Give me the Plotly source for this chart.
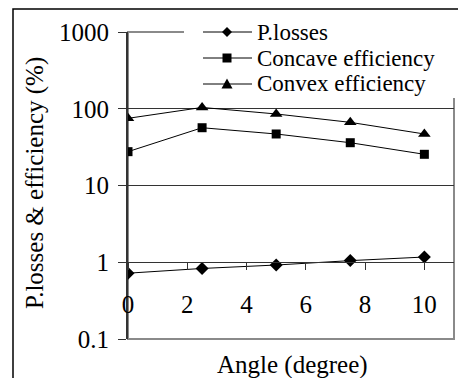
import plotly.graph_objects as go

# ---- data ----
angles = [0, 2.5, 5, 7.5, 10]
p_losses = [0.72, 0.83, 0.92, 1.05, 1.17]
concave_eff = [27.6, 56.6, 46.9, 36.1, 25.5]
convex_eff = [75, 104, 85.5, 66.5, 46.9]
series_names = ["P.losses", "Concave efficiency", "Convex efficiency"]
y_tick_vals = [0.1, 1, 10, 100, 1000]
y_tick_text = ["0.1", "1", "10", "100", "1000"]
x_tick_vals = [0, 2, 4, 6, 8, 10]
x_title = "Angle (degree)"
y_title = "P.losses & efficiency (%)"

FONT = "Liberation Serif"
FS = 25
LFS = 23
# the page body has an 8px margin; the figure is sized so the page has no scrollbars
OFF = 8
FW, FH = 450, 370
# plot area in page pixels: x 128..454, y 32..339
PL, PR, PT, PB = 128, 454, 32, 339
PW, PH = PR - PL, PB - PT
ML, MT = PL - OFF, PT - OFF
MR, MB = FW - ML - PW, FH - MT - PH


def px(x):
    return (x - PL) / PW


def py(y):
    return (PB - y) / PH


fig = go.Figure()
symbols = ["diamond", "square", "triangle-up"]
sizes = [10, 9, 11]
for name, vals, sym, sz in zip(series_names, [p_losses, concave_eff, convex_eff], symbols, sizes):
    fig.add_trace(go.Scatter(
        x=angles, y=vals, name=name, mode="lines+markers",
        line=dict(color="black", width=1),
        marker=dict(symbol=sym, size=sz, color="black"),
        showlegend=False,
    ))

shapes = []
# plot frame (gray)
shapes.append(dict(type="rect", xref="paper", yref="paper", x0=0, x1=1, y0=0, y1=1,
                   line=dict(color="#8a8a8a", width=2), layer="below"))
# outer chart border
shapes.append(dict(type="rect", xref="paper", yref="paper", x0=px(13), x1=px(480), y0=py(400), y1=py(9),
                   line=dict(color="black", width=1.5), layer="below"))
# white legend box
shapes.append(dict(type="rect", xref="paper", yref="paper", x0=px(184), x1=px(470), y0=py(98), y1=py(12),
                   line=dict(width=0), fillcolor="white", layer="above"))

rows = [32, 58, 84]
paths = [
    "M0,5 L5,0 L0,-5 L-5,0 Z",
    "M-4.5,-4.5 L4.5,-4.5 L4.5,4.5 L-4.5,4.5 Z",
    "M-5.5,-4.5 L5.5,-4.5 L0,5.5 Z",
]
annotations = []
for r, pth, name in zip(rows, paths, series_names):
    shapes.append(dict(type="line", xref="paper", yref="paper", x0=px(203), x1=px(252), y0=py(r), y1=py(r),
                       line=dict(color="black", width=1), layer="above"))
    shapes.append(dict(type="path", xref="paper", yref="paper", xsizemode="pixel", ysizemode="pixel",
                       xanchor=px(227), yanchor=py(r), path=pth, fillcolor="black",
                       line=dict(color="black", width=0), layer="above"))
    annotations.append(dict(text=name, xref="paper", yref="paper", x=px(256), y=py(r),
                            xanchor="left", yanchor="middle", showarrow=False, borderpad=0,
                            font=dict(family=FONT, size=LFS, color="black")))

annotations.append(dict(text=x_title, xref="paper", yref="paper", x=px(292), y=py(365),
                        xanchor="center", yanchor="middle", showarrow=False,
                        font=dict(family=FONT, size=FS, color="black")))
annotations.append(dict(text=y_title, xref="paper", yref="paper", x=px(35), y=py(183),
                        xanchor="center", yanchor="middle", showarrow=False, textangle=-90,
                        font=dict(family=FONT, size=FS, color="black")))

fig.update_layout(
    width=FW, height=FH,
    margin=dict(l=ML, r=MR, t=MT, b=MB, pad=0),
    paper_bgcolor="white", plot_bgcolor="white",
    font=dict(family=FONT, size=FS, color="black"),
    shapes=shapes, annotations=annotations,
    showlegend=False,
    xaxis=dict(range=[0, 11], anchor="free", position=0.25, showgrid=False, zeroline=False,
               showline=True, linecolor="#333333", linewidth=1,
               ticks="outside", ticklen=7, tickcolor="#333333", tickwidth=1,
               tickvals=x_tick_vals, ticklabelstandoff=13,
               tickfont=dict(family=FONT, size=FS, color="black")),
    yaxis=dict(type="log", range=[-1, 3], tickvals=y_tick_vals, ticktext=y_tick_text,
               showgrid=True, gridcolor="#333333", gridwidth=1, zeroline=False,
               showline=True, linecolor="#333333", linewidth=2,
               ticks="outside", ticklen=8, tickcolor="#333333", tickwidth=1,
               ticklabelstandoff=4,
               tickfont=dict(family=FONT, size=FS, color="black")),
)

fig.write_html("out.html")
